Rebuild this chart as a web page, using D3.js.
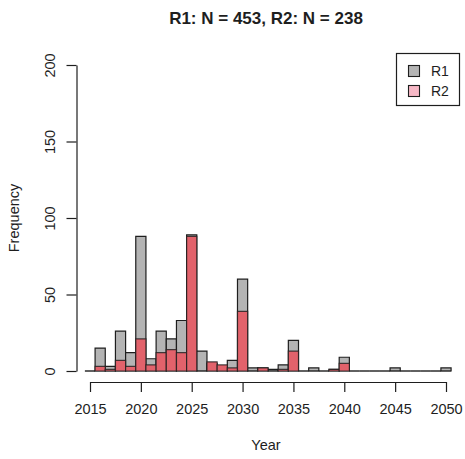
<!DOCTYPE html>
<html>
<head>
<meta charset="utf-8">
<script src="https://cdn.jsdelivr.net/npm/d3@7"></script>
<style>
  body { margin: 0; background: #fff; }
  svg { font-family: "Liberation Sans", Arial, sans-serif; }
</style>
</head>
<body>
<div class="chart"></div>
<script>
// yearly counts, bins (year-0.5, year+0.5]
var years = [2015,2016,2017,2018,2019,2020,2021,2022,2023,2024,2025,2026,2027,2028,2029,2030,2031,2032,2033,2034,2035,2036,2037,2038,2039,2040,2041,2042,2043,2044,2045,2046,2047,2048,2049,2050];
var r1Counts = [0,15,3,26,12,88,8,26,21,33,89,13,5,3,7,60,2,2,1,4,20,0,2,0,1,9,0,0,0,0,2,0,0,0,0,2];
var r2Counts = [0,3,1,7,3,21,4,12,14,12,88,0,6,4,2,39,0,2,0,1,13,0,0,0,1,5,0,0,0,0,0,0,0,0,0,0];
var xTicks = [2015,2020,2025,2030,2035,2040,2045,2050];
var yTicks = [0,50,100,150,200];
var legendNames = ["R1","R2"];

var W = 465, H = 459;
var greyFill = "#b4b4b4", redFill = "#e2626b", pinkKey = "#f7b8c6";
var ink = "#1e1e1e";

var svg = d3.select(".chart").append("svg")
  .attr("width", W)
  .attr("height", H);

var x = d3.scaleLinear().domain([2015, 2050]).range([90, 446]);
var y = d3.scaleLinear().domain([0, 200]).range([371, 65]);

// bars as paths so empty bins still show a baseline
function barPath(yr, n) {
  var x0 = x(yr - 0.5), x1 = x(yr + 0.5), y0 = y(0), y1 = y(n);
  return "M" + x0 + "," + y0 + "H" + x1 + "V" + y1 + "H" + x0 + "Z";
}

svg.append("g").selectAll("path")
  .data(years)
  .enter().append("path")
    .attr("d", function (d, i) { return barPath(d, r1Counts[i]); })
    .attr("fill", greyFill)
    .attr("stroke", ink)
    .attr("stroke-width", 1.2);

svg.append("g").selectAll("path")
  .data(years)
  .enter().append("path")
    .attr("d", function (d, i) { return barPath(d, r2Counts[i]); })
    .attr("fill", redFill)
    .attr("stroke", ink)
    .attr("stroke-opacity", 0.8)
    .attr("stroke-width", 1.2);

// axes
var xAxis = svg.append("g")
  .attr("transform", "translate(0,382)")
  .call(d3.axisBottom(x).tickValues(xTicks).tickFormat(d3.format("d")).tickSize(10).tickSizeOuter(0).tickPadding(12));

var yAxis = svg.append("g")
  .attr("transform", "translate(76.5,0)")
  .call(d3.axisLeft(y).tickValues(yTicks).tickSize(10).tickSizeOuter(0).tickPadding(0));

[xAxis, yAxis].forEach(function (g) {
  g.selectAll("path, line").attr("stroke", ink).attr("stroke-width", 1.2);
  g.selectAll("text").attr("fill", ink).style("font-size", "14.5px");
});

yAxis.selectAll(".tick text")
  .attr("transform", "translate(-27,0) rotate(-90)")
  .attr("x", 0)
  .attr("dy", "0.35em")
  .attr("text-anchor", "middle");

// labels
svg.append("text")
  .attr("x", 266)
  .attr("y", 24)
  .attr("text-anchor", "middle")
  .attr("font-weight", "bold")
  .attr("font-size", "17px")
  .attr("fill", ink)
  .text("R1: N = 453, R2: N = 238");

svg.append("text")
  .attr("x", 266)
  .attr("y", 450)
  .attr("text-anchor", "middle")
  .attr("font-size", "14.5px")
  .attr("fill", ink)
  .text("Year");

svg.append("text")
  .attr("transform", "translate(19,218) rotate(-90)")
  .attr("text-anchor", "middle")
  .attr("font-size", "14.5px")
  .attr("fill", ink)
  .text("Frequency");

// legend
var legend = svg.append("g");
legend.append("rect")
  .attr("x", 396.5).attr("y", 53.5)
  .attr("width", 63).attr("height", 52)
  .attr("fill", "#fff")
  .attr("stroke", ink)
  .attr("stroke-width", 1.2);

legend.selectAll(".key")
  .data(legendNames)
  .enter().append("rect")
    .attr("x", 408.5)
    .attr("y", function (d, i) { return 65.5 + i * 20; })
    .attr("width", 11).attr("height", 11)
    .attr("fill", function (d, i) { return i === 0 ? greyFill : pinkKey; })
    .attr("stroke", ink)
    .attr("stroke-width", 1.1);

legend.selectAll(".lab")
  .data(legendNames)
  .enter().append("text")
    .attr("x", 431)
    .attr("y", function (d, i) { return 71 + i * 20; })
    .attr("dy", "0.36em")
    .attr("font-size", "14px")
    .attr("fill", ink)
    .text(function (d) { return d; });
</script>
</body>
</html>
